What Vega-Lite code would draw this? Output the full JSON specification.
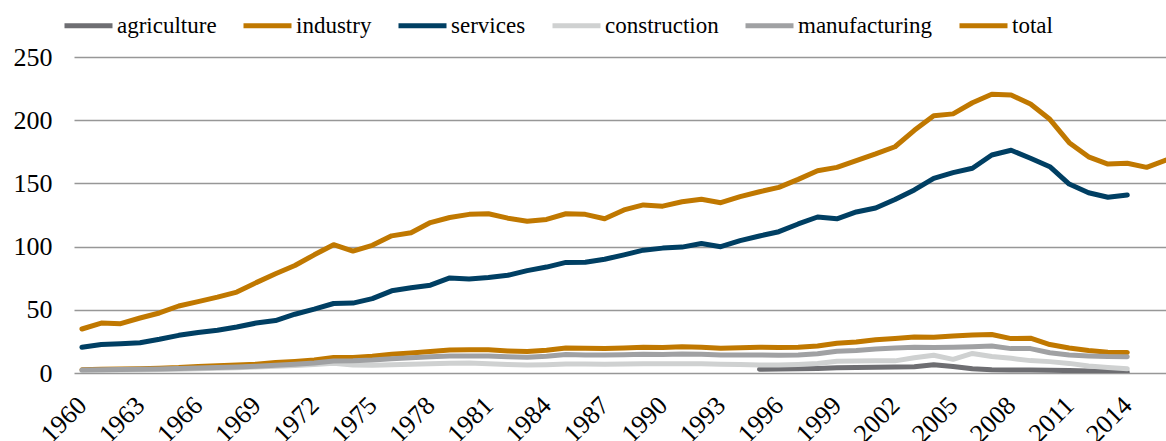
{
  "$schema": "https://vega.github.io/schema/vega-lite/v6.json",
  "autosize": {"type": "none"},
  "padding": {"left": 74, "top": 57, "right": 0, "bottom": 68},
  "width": 1092,
  "height": 316,
  "background": "white",
  "config": {
    "view": {"stroke": null}
  },
  "data": {
    "values": [
      {"year":1995,"series":"agriculture","value":3.0},{"year":1996,"series":"agriculture","value":3.1},{"year":1997,"series":"agriculture","value":3.3},{"year":1998,"series":"agriculture","value":3.6},{"year":1999,"series":"agriculture","value":4.1},{"year":2000,"series":"agriculture","value":4.4},{"year":2001,"series":"agriculture","value":4.6},{"year":2002,"series":"agriculture","value":4.7},{"year":2003,"series":"agriculture","value":5.0},{"year":2004,"series":"agriculture","value":6.6},{"year":2005,"series":"agriculture","value":5.2},{"year":2006,"series":"agriculture","value":3.3},{"year":2007,"series":"agriculture","value":2.5},{"year":2008,"series":"agriculture","value":2.4},{"year":2009,"series":"agriculture","value":2.4},{"year":2010,"series":"agriculture","value":2.2},{"year":2011,"series":"agriculture","value":1.9},{"year":2012,"series":"agriculture","value":1.5},{"year":2013,"series":"agriculture","value":1.1},{"year":2014,"series":"agriculture","value":0.8},

      {"year":1960,"series":"industry","value":2.6},{"year":1961,"series":"industry","value":2.9},{"year":1962,"series":"industry","value":3.1},{"year":1963,"series":"industry","value":3.4},{"year":1964,"series":"industry","value":3.8},{"year":1965,"series":"industry","value":4.3},{"year":1966,"series":"industry","value":5.2},{"year":1967,"series":"industry","value":5.8},{"year":1968,"series":"industry","value":6.3},{"year":1969,"series":"industry","value":7.0},{"year":1970,"series":"industry","value":8.3},{"year":1971,"series":"industry","value":9.2},{"year":1972,"series":"industry","value":10.3},{"year":1973,"series":"industry","value":12.2},{"year":1974,"series":"industry","value":12.3},{"year":1975,"series":"industry","value":13.3},{"year":1976,"series":"industry","value":14.8},{"year":1977,"series":"industry","value":15.8},{"year":1978,"series":"industry","value":17.0},{"year":1979,"series":"industry","value":18.2},{"year":1980,"series":"industry","value":18.4},{"year":1981,"series":"industry","value":18.3},{"year":1982,"series":"industry","value":17.5},{"year":1983,"series":"industry","value":17.0},{"year":1984,"series":"industry","value":18.0},{"year":1985,"series":"industry","value":19.8},{"year":1986,"series":"industry","value":19.5},{"year":1987,"series":"industry","value":19.3},{"year":1988,"series":"industry","value":19.8},{"year":1989,"series":"industry","value":20.3},{"year":1990,"series":"industry","value":20.1},{"year":1991,"series":"industry","value":20.7},{"year":1992,"series":"industry","value":20.4},{"year":1993,"series":"industry","value":19.5},{"year":1994,"series":"industry","value":20.0},{"year":1995,"series":"industry","value":20.3},{"year":1996,"series":"industry","value":20.2},{"year":1997,"series":"industry","value":20.3},{"year":1998,"series":"industry","value":21.3},{"year":1999,"series":"industry","value":23.5},{"year":2000,"series":"industry","value":24.5},{"year":2001,"series":"industry","value":26.3},{"year":2002,"series":"industry","value":27.3},{"year":2003,"series":"industry","value":28.5},{"year":2004,"series":"industry","value":28.2},{"year":2005,"series":"industry","value":29.3},{"year":2006,"series":"industry","value":30.0},{"year":2007,"series":"industry","value":30.5},{"year":2008,"series":"industry","value":27.2},{"year":2009,"series":"industry","value":27.5},{"year":2010,"series":"industry","value":22.5},{"year":2011,"series":"industry","value":19.8},{"year":2012,"series":"industry","value":17.8},{"year":2013,"series":"industry","value":16.5},{"year":2014,"series":"industry","value":16.3},

      {"year":1960,"series":"services","value":20.3},{"year":1961,"series":"services","value":22.5},{"year":1962,"series":"services","value":23.2},{"year":1963,"series":"services","value":24.0},{"year":1964,"series":"services","value":26.7},{"year":1965,"series":"services","value":29.8},{"year":1966,"series":"services","value":32.0},{"year":1967,"series":"services","value":33.8},{"year":1968,"series":"services","value":36.4},{"year":1969,"series":"services","value":39.5},{"year":1970,"series":"services","value":41.5},{"year":1971,"series":"services","value":46.5},{"year":1972,"series":"services","value":50.5},{"year":1973,"series":"services","value":55.0},{"year":1974,"series":"services","value":55.3},{"year":1975,"series":"services","value":58.8},{"year":1976,"series":"services","value":65.0},{"year":1977,"series":"services","value":67.5},{"year":1978,"series":"services","value":69.5},{"year":1979,"series":"services","value":75.2},{"year":1980,"series":"services","value":74.4},{"year":1981,"series":"services","value":75.5},{"year":1982,"series":"services","value":77.3},{"year":1983,"series":"services","value":81.0},{"year":1984,"series":"services","value":83.8},{"year":1985,"series":"services","value":87.5},{"year":1986,"series":"services","value":87.6},{"year":1987,"series":"services","value":90.0},{"year":1988,"series":"services","value":93.5},{"year":1989,"series":"services","value":97.2},{"year":1990,"series":"services","value":98.8},{"year":1991,"series":"services","value":99.6},{"year":1992,"series":"services","value":102.4},{"year":1993,"series":"services","value":99.9},{"year":1994,"series":"services","value":104.7},{"year":1995,"series":"services","value":108.4},{"year":1996,"series":"services","value":111.8},{"year":1997,"series":"services","value":117.9},{"year":1998,"series":"services","value":123.4},{"year":1999,"series":"services","value":122.0},{"year":2000,"series":"services","value":127.4},{"year":2001,"series":"services","value":130.5},{"year":2002,"series":"services","value":137.2},{"year":2003,"series":"services","value":144.8},{"year":2004,"series":"services","value":154.0},{"year":2005,"series":"services","value":158.5},{"year":2006,"series":"services","value":162.0},{"year":2007,"series":"services","value":172.5},{"year":2008,"series":"services","value":176.2},{"year":2009,"series":"services","value":169.9},{"year":2010,"series":"services","value":163.2},{"year":2011,"series":"services","value":149.5},{"year":2012,"series":"services","value":142.6},{"year":2013,"series":"services","value":139.0},{"year":2014,"series":"services","value":140.8},

      {"year":1960,"series":"construction","value":1.8},{"year":1961,"series":"construction","value":2.0},{"year":1962,"series":"construction","value":2.2},{"year":1963,"series":"construction","value":2.4},{"year":1964,"series":"construction","value":2.7},{"year":1965,"series":"construction","value":3.0},{"year":1966,"series":"construction","value":3.4},{"year":1967,"series":"construction","value":3.8},{"year":1968,"series":"construction","value":4.2},{"year":1969,"series":"construction","value":4.7},{"year":1970,"series":"construction","value":5.3},{"year":1971,"series":"construction","value":6.0},{"year":1972,"series":"construction","value":6.8},{"year":1973,"series":"construction","value":7.7},{"year":1974,"series":"construction","value":6.3},{"year":1975,"series":"construction","value":6.2},{"year":1976,"series":"construction","value":6.6},{"year":1977,"series":"construction","value":7.0},{"year":1978,"series":"construction","value":7.4},{"year":1979,"series":"construction","value":7.8},{"year":1980,"series":"construction","value":8.0},{"year":1981,"series":"construction","value":7.3},{"year":1982,"series":"construction","value":6.8},{"year":1983,"series":"construction","value":6.4},{"year":1984,"series":"construction","value":6.6},{"year":1985,"series":"construction","value":7.1},{"year":1986,"series":"construction","value":7.1},{"year":1987,"series":"construction","value":6.9},{"year":1988,"series":"construction","value":7.2},{"year":1989,"series":"construction","value":7.4},{"year":1990,"series":"construction","value":7.3},{"year":1991,"series":"construction","value":7.4},{"year":1992,"series":"construction","value":7.3},{"year":1993,"series":"construction","value":7.0},{"year":1994,"series":"construction","value":6.8},{"year":1995,"series":"construction","value":6.4},{"year":1996,"series":"construction","value":6.3},{"year":1997,"series":"construction","value":6.8},{"year":1998,"series":"construction","value":7.6},{"year":1999,"series":"construction","value":9.3},{"year":2000,"series":"construction","value":9.4},{"year":2001,"series":"construction","value":9.6},{"year":2002,"series":"construction","value":9.6},{"year":2003,"series":"construction","value":12.0},{"year":2004,"series":"construction","value":14.0},{"year":2005,"series":"construction","value":10.8},{"year":2006,"series":"construction","value":15.5},{"year":2007,"series":"construction","value":13.0},{"year":2008,"series":"construction","value":11.6},{"year":2009,"series":"construction","value":9.8},{"year":2010,"series":"construction","value":9.0},{"year":2011,"series":"construction","value":7.6},{"year":2012,"series":"construction","value":5.6},{"year":2013,"series":"construction","value":4.3},{"year":2014,"series":"construction","value":3.3},

      {"year":1960,"series":"manufacturing","value":2.3},{"year":1961,"series":"manufacturing","value":2.5},{"year":1962,"series":"manufacturing","value":2.7},{"year":1963,"series":"manufacturing","value":2.9},{"year":1964,"series":"manufacturing","value":3.2},{"year":1965,"series":"manufacturing","value":3.6},{"year":1966,"series":"manufacturing","value":4.0},{"year":1967,"series":"manufacturing","value":4.4},{"year":1968,"series":"manufacturing","value":4.8},{"year":1969,"series":"manufacturing","value":5.4},{"year":1970,"series":"manufacturing","value":6.2},{"year":1971,"series":"manufacturing","value":7.0},{"year":1972,"series":"manufacturing","value":8.0},{"year":1973,"series":"manufacturing","value":9.5},{"year":1974,"series":"manufacturing","value":9.7},{"year":1975,"series":"manufacturing","value":10.3},{"year":1976,"series":"manufacturing","value":11.3},{"year":1977,"series":"manufacturing","value":12.0},{"year":1978,"series":"manufacturing","value":12.8},{"year":1979,"series":"manufacturing","value":13.5},{"year":1980,"series":"manufacturing","value":13.5},{"year":1981,"series":"manufacturing","value":13.4},{"year":1982,"series":"manufacturing","value":12.8},{"year":1983,"series":"manufacturing","value":12.5},{"year":1984,"series":"manufacturing","value":13.3},{"year":1985,"series":"manufacturing","value":14.6},{"year":1986,"series":"manufacturing","value":14.3},{"year":1987,"series":"manufacturing","value":14.2},{"year":1988,"series":"manufacturing","value":14.5},{"year":1989,"series":"manufacturing","value":14.8},{"year":1990,"series":"manufacturing","value":14.7},{"year":1991,"series":"manufacturing","value":15.0},{"year":1992,"series":"manufacturing","value":14.8},{"year":1993,"series":"manufacturing","value":14.2},{"year":1994,"series":"manufacturing","value":14.3},{"year":1995,"series":"manufacturing","value":14.3},{"year":1996,"series":"manufacturing","value":14.1},{"year":1997,"series":"manufacturing","value":14.3},{"year":1998,"series":"manufacturing","value":15.2},{"year":1999,"series":"manufacturing","value":17.2},{"year":2000,"series":"manufacturing","value":17.8},{"year":2001,"series":"manufacturing","value":19.0},{"year":2002,"series":"manufacturing","value":19.8},{"year":2003,"series":"manufacturing","value":20.3},{"year":2004,"series":"manufacturing","value":20.2},{"year":2005,"series":"manufacturing","value":20.4},{"year":2006,"series":"manufacturing","value":20.8},{"year":2007,"series":"manufacturing","value":21.4},{"year":2008,"series":"manufacturing","value":19.3},{"year":2009,"series":"manufacturing","value":19.3},{"year":2010,"series":"manufacturing","value":16.0},{"year":2011,"series":"manufacturing","value":14.3},{"year":2012,"series":"manufacturing","value":13.5},{"year":2013,"series":"manufacturing","value":13.0},{"year":2014,"series":"manufacturing","value":12.9},

      {"year":1960,"series":"total","value":34.8},{"year":1961,"series":"total","value":39.5},{"year":1962,"series":"total","value":39.0},{"year":1963,"series":"total","value":43.5},{"year":1964,"series":"total","value":47.5},{"year":1965,"series":"total","value":53.0},{"year":1966,"series":"total","value":56.5},{"year":1967,"series":"total","value":60.0},{"year":1968,"series":"total","value":64.0},{"year":1969,"series":"total","value":71.5},{"year":1970,"series":"total","value":78.5},{"year":1971,"series":"total","value":85.0},{"year":1972,"series":"total","value":93.5},{"year":1973,"series":"total","value":101.5},{"year":1974,"series":"total","value":96.5},{"year":1975,"series":"total","value":101.0},{"year":1976,"series":"total","value":108.5},{"year":1977,"series":"total","value":111.0},{"year":1978,"series":"total","value":119.0},{"year":1979,"series":"total","value":123.0},{"year":1980,"series":"total","value":125.5},{"year":1981,"series":"total","value":126.0},{"year":1982,"series":"total","value":122.5},{"year":1983,"series":"total","value":120.0},{"year":1984,"series":"total","value":121.5},{"year":1985,"series":"total","value":126.0},{"year":1986,"series":"total","value":125.5},{"year":1987,"series":"total","value":122.0},{"year":1988,"series":"total","value":129.0},{"year":1989,"series":"total","value":133.0},{"year":1990,"series":"total","value":132.0},{"year":1991,"series":"total","value":135.5},{"year":1992,"series":"total","value":137.5},{"year":1993,"series":"total","value":134.7},{"year":1994,"series":"total","value":139.5},{"year":1995,"series":"total","value":143.4},{"year":1996,"series":"total","value":146.9},{"year":1997,"series":"total","value":153.2},{"year":1998,"series":"total","value":160.0},{"year":1999,"series":"total","value":162.7},{"year":2000,"series":"total","value":168.0},{"year":2001,"series":"total","value":173.3},{"year":2002,"series":"total","value":179.0},{"year":2003,"series":"total","value":192.0},{"year":2004,"series":"total","value":203.5},{"year":2005,"series":"total","value":205.0},{"year":2006,"series":"total","value":213.8},{"year":2007,"series":"total","value":220.5},{"year":2008,"series":"total","value":220.0},{"year":2009,"series":"total","value":212.8},{"year":2010,"series":"total","value":200.7},{"year":2011,"series":"total","value":182.2},{"year":2012,"series":"total","value":171.0},{"year":2013,"series":"total","value":165.3},{"year":2014,"series":"total","value":165.9},{"year":2015,"series":"total","value":162.7},{"year":2016,"series":"total","value":168.5}
    ]
  },
  "mark": {"type": "line", "strokeWidth": 5, "strokeCap": "round", "strokeJoin": "round", "clip": true},
  "encoding": {
    "x": {
      "field": "year", "type": "quantitative",
      "scale": {"domain": [1959.59, 2016], "nice": false, "zero": false},
      "axis": {
        "title": null, "values": [1960,1963,1966,1969,1972,1975,1978,1981,1984,1987,1990,1993,1996,1999,2002,2005,2008,2011,2014],
        "format": "d", "labelAngle": -45, "labelAlign": "right", "labelBaseline": "middle", "labelFontSize": 26, "labelFont": "serif", "labelColor": "#000000",
        "ticks": false, "domain": false, "grid": false, "labelPadding": 28, "labelOverlap": false, "labelFlush": false, "labelBound": false
      }
    },
    "y": {
      "field": "value", "type": "quantitative",
      "scale": {"domain": [0, 250], "nice": false},
      "axis": {
        "title": null, "values": [0,50,100,150,200,250], "labelFontSize": 26, "labelFont": "serif", "labelColor": "#000000",
        "ticks": false, "domain": false, "grid": true, "gridColor": "#979797", "gridWidth": 1.3, "labelPadding": 22
      }
    },
    "color": {
      "field": "series", "type": "nominal",
      "scale": {
        "domain": ["agriculture","industry","services","construction","manufacturing","total"],
        "range": ["#6e6e72","#c07800","#003f63","#cfd1d1","#a0a1a3","#c07800"]
      },
      "legend": {
        "title": null, "orient": "none", "legendX": -12, "legendY": -58, "direction": "horizontal",
        "symbolType": "stroke", "symbolSize": 2304, "symbolStrokeWidth": 5,
        "labelFontSize": 23, "labelFont": "serif", "labelColor": "#000000", "labelOffset": 2,
        "columnPadding": 16, "columns": 6
      }
    },
    "order": {"field": "year"}
  }
}
